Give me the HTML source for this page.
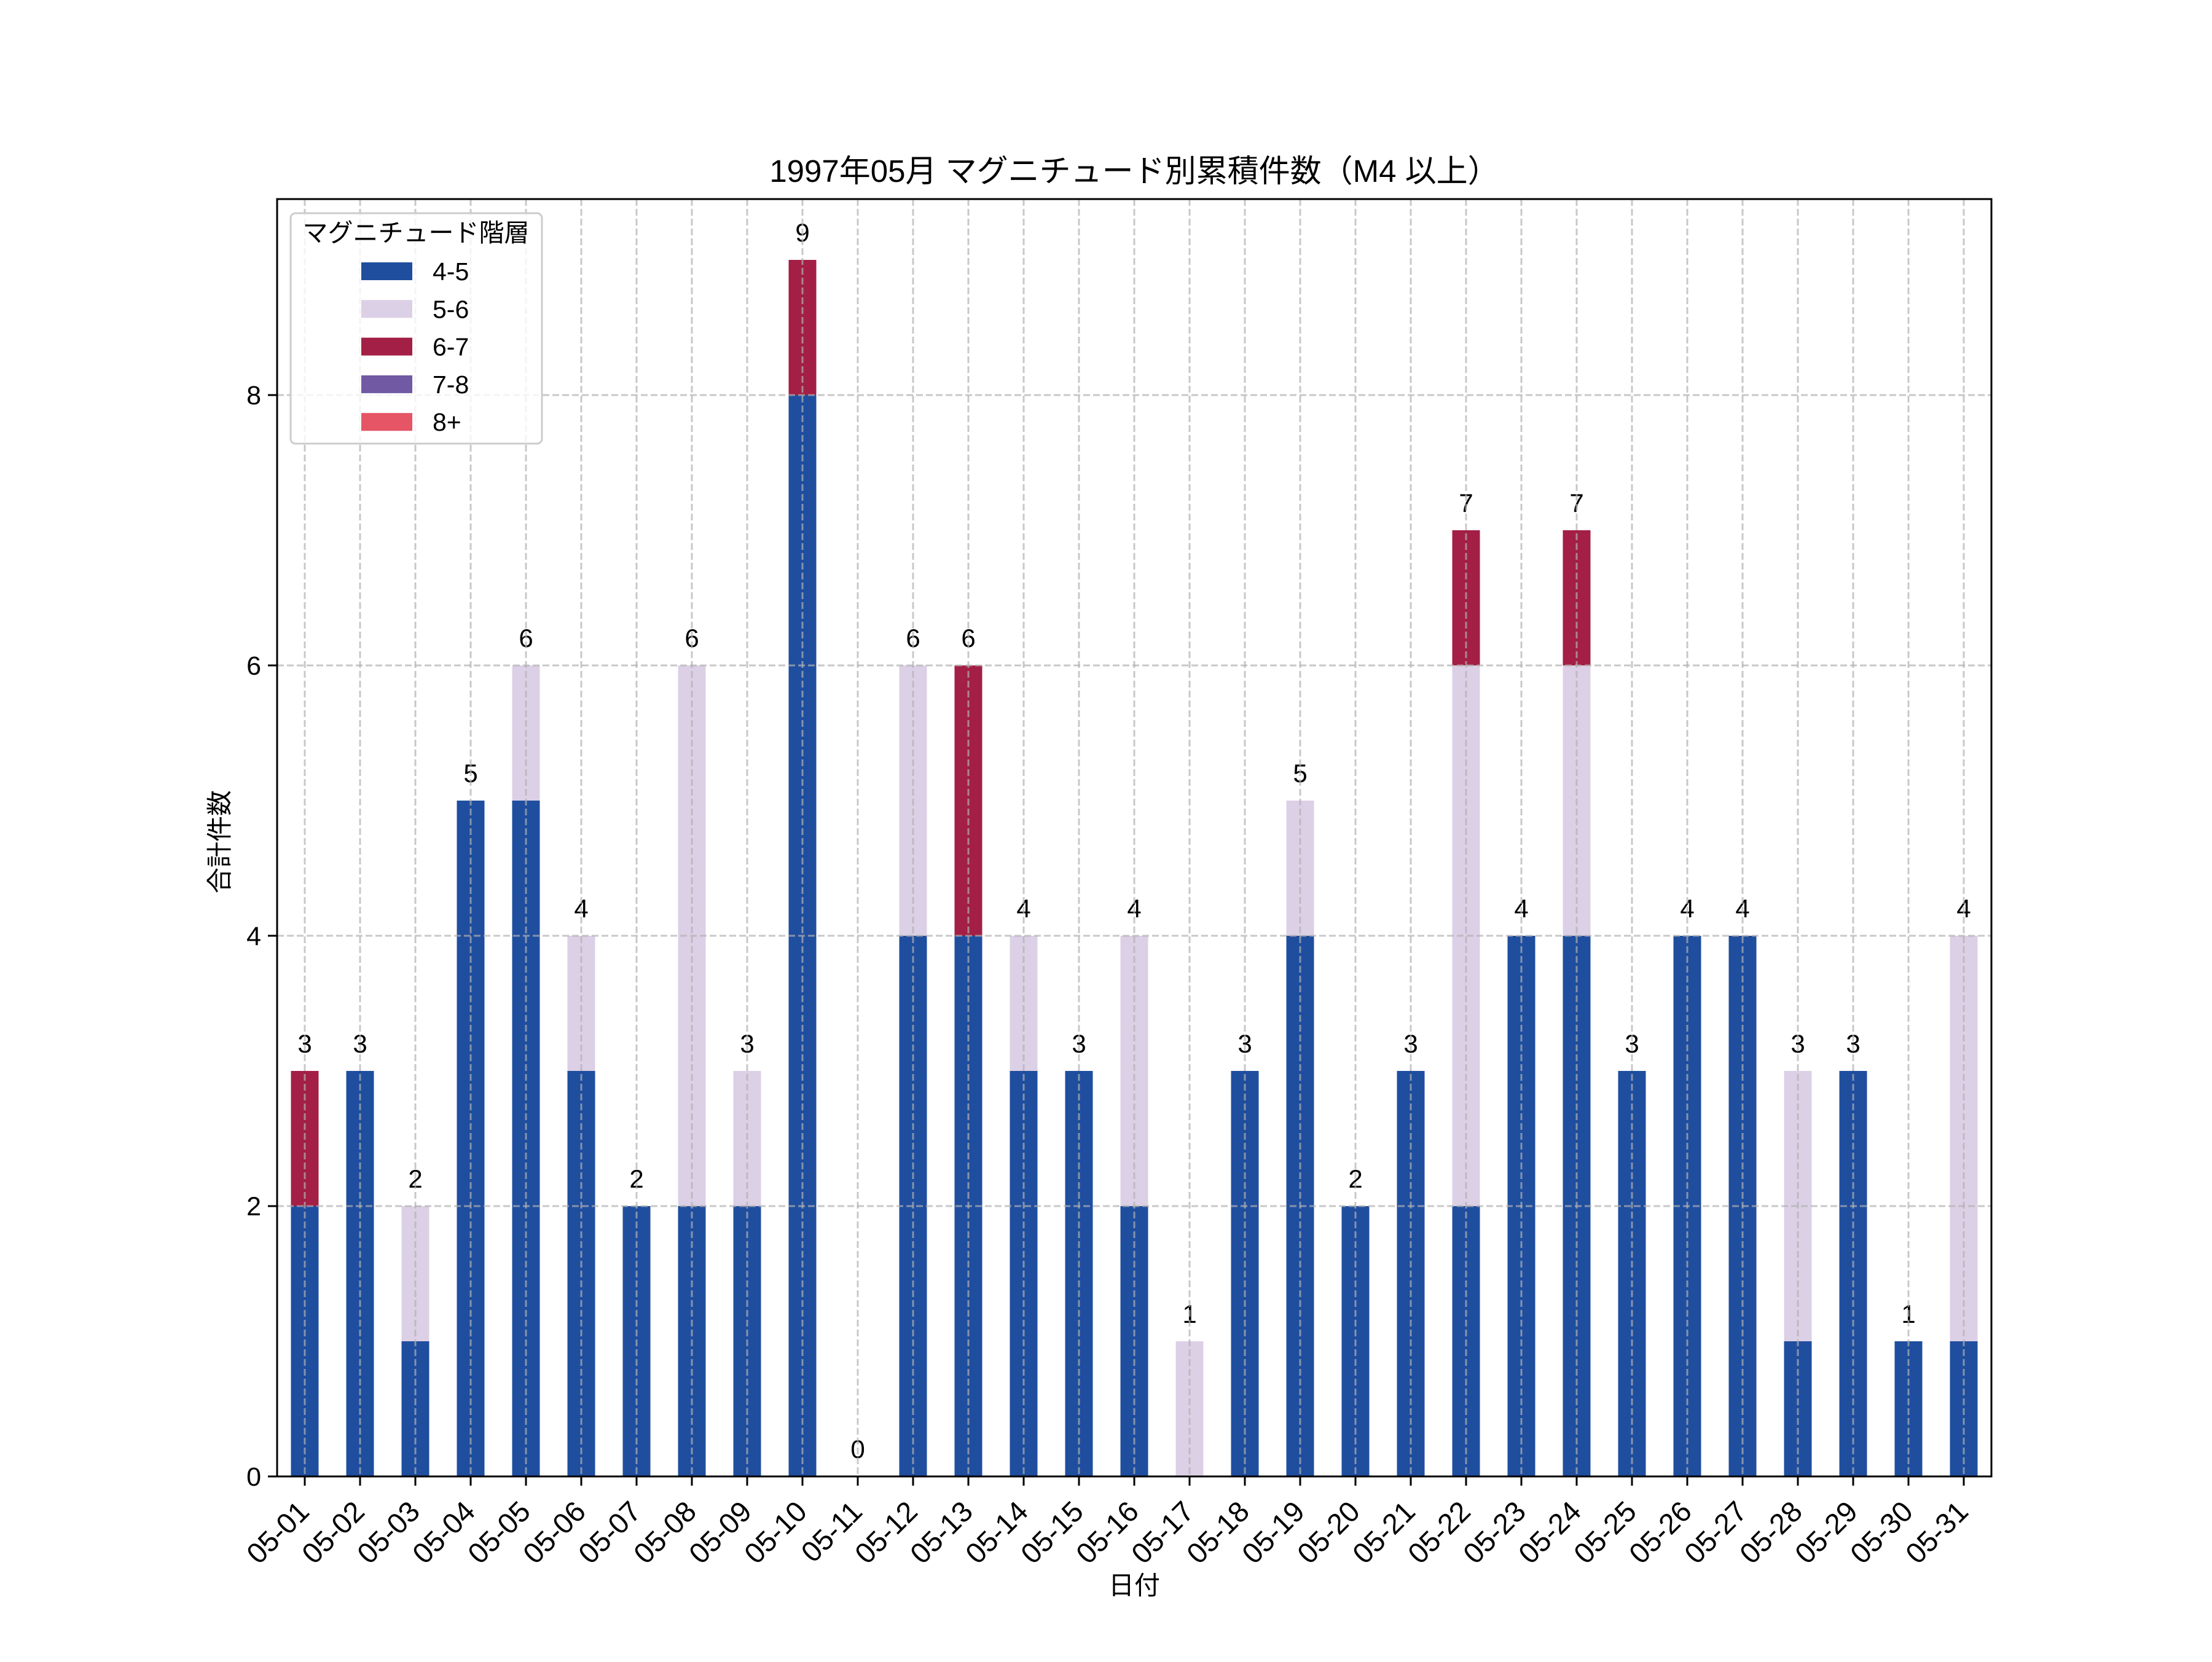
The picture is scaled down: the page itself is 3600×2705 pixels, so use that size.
<!DOCTYPE html>
<html><head><meta charset="utf-8">
<style>
html,body{margin:0;padding:0;background:#fff;}
svg text{font-family:"Liberation Sans","Noto Sans CJK JP",sans-serif;fill:#000;}
</style></head>
<body>
<svg id="chart" width="3600" height="2700" viewBox="0 0 3600 2700" xmlns="http://www.w3.org/2000/svg">
<rect width="3600" height="2700" fill="#fff"/>
<g id="bars"></g>
<g id="grid"></g>
<g id="axes"></g>
<text x="1846" y="296" font-size="51" text-anchor="middle">1997年05月 マグニチュード別累積件数（M4 以上）</text>
<text x="1846" y="2595" font-size="42" text-anchor="middle">日付</text>
<text x="0" y="0" font-size="42" text-anchor="middle" transform="translate(372,1370) rotate(-90)">合計件数</text>
<g id="legend">
<rect x="473" y="347" width="409" height="375" rx="8" fill="#fff" fill-opacity="0.8" stroke="#cccccc" stroke-width="3"/>
<text x="677" y="393" font-size="41" text-anchor="middle">マグニチュード階層</text>
</g>
</svg>
<script>
const categories = ["05-01","05-02","05-03","05-04","05-05","05-06","05-07","05-08","05-09","05-10","05-11","05-12","05-13","05-14","05-15","05-16","05-17","05-18","05-19","05-20","05-21","05-22","05-23","05-24","05-25","05-26","05-27","05-28","05-29","05-30","05-31"];
const m45 = [2,3,1,5,5,3,2,2,2,8,0,4,4,3,3,2,0,3,4,2,3,2,4,4,3,4,4,1,3,1,1];
const m56 = [0,0,1,0,1,1,0,4,1,0,0,2,0,1,0,2,1,0,1,0,0,4,0,2,0,0,0,2,0,0,3];
const m67 = [1,0,0,0,0,0,0,0,0,1,0,0,2,0,0,0,0,0,0,0,0,1,0,1,0,0,0,0,0,0,0];
const m78 = [0,0,0,0,0,0,0,0,0,0,0,0,0,0,0,0,0,0,0,0,0,0,0,0,0,0,0,0,0,0,0];
const m8p = [0,0,0,0,0,0,0,0,0,0,0,0,0,0,0,0,0,0,0,0,0,0,0,0,0,0,0,0,0,0,0];
const seriesNames = ["4-5","5-6","6-7","7-8","8+"];
const yTicks = [0,2,4,6,8];

const NS="http://www.w3.org/2000/svg";
const L=451,R=3241,T=324,B=2403;
const colors=["#1f4e9f","#dcd0e6","#a31f45","#7159a4","#e55565"];
const series=[m45,m56,m67,m78,m8p];
const n=categories.length;
const totals=categories.map((c,i)=>series.reduce((s,a)=>s+a[i],0));
const yMax=Math.max(...totals)*1.05;
const bw=(R-L)/n;
function xs(i){return L+bw*(i+0.5);}
function ys(v){return B-(v/yMax)*(B-T);}
function mk(tag,attrs,parent){const e=document.createElementNS(NS,tag);for(const k in attrs)e.setAttribute(k,attrs[k]);parent.appendChild(e);return e;}
const gb=document.getElementById('bars'),gg=document.getElementById('grid'),ga=document.getElementById('axes'),gl=document.getElementById('legend');
for(let i=0;i<n;i++){
  let base=0;
  for(let s=0;s<series.length;s++){
    const v=series[s][i];
    if(v>0){
      const r=mk('rect',{x:xs(i)-bw*0.25,y:ys(base+v),width:bw*0.5,height:ys(base)-ys(base+v),fill:colors[s]},gb);
      
      
    }
    base+=v;
  }
  const t=mk('text',{x:xs(i),y:ys(totals[i])-30,'font-size':42,'text-anchor':'middle'},gb);
  t.textContent=totals[i];
  
  
}
for(let i=0;i<n;i++){
  const l=mk('line',{x1:xs(i),x2:xs(i),y1:T,y2:B,stroke:'#b0b0b0','stroke-opacity':0.7,'stroke-width':3,'stroke-dasharray':'11,5'},gg);
  
  
  const tk=mk('line',{x1:xs(i),x2:xs(i),y1:B,y2:B+15,stroke:'#000','stroke-width':3},ga);
  
  
  const tl=mk('text',{x:0,y:0,'font-size':47,'text-anchor':'end',transform:`translate(${xs(i)+10},${B+60}) rotate(-45)`},ga);
  tl.textContent=categories[i];
  
  
}
yTicks.forEach(v=>{
  if(v>0){
    const l=mk('line',{x1:L,x2:R,y1:ys(v),y2:ys(v),stroke:'#b0b0b0','stroke-opacity':0.7,'stroke-width':3,'stroke-dasharray':'11,5'},gg);
    
    
  }
  const tk=mk('line',{x1:L-15,x2:L,y1:ys(v),y2:ys(v),stroke:'#000','stroke-width':3},ga);
  
  
  const tl=mk('text',{x:L-26,y:ys(v)+15,'font-size':43,'text-anchor':'end'},ga);
  tl.textContent=v;
  
  
});
const fr=mk('rect',{x:L,y:T,width:R-L,height:B-T,fill:'none',stroke:'#000','stroke-width':3},ga);


seriesNames.forEach((nm,s)=>{
  const y=441+s*61.3;
  const p=mk('rect',{x:588,y:y-14,width:83,height:29,fill:colors[s]},gl);
  
  
  const t=mk('text',{x:704,y:y+15,'font-size':41},gl);
  t.textContent=nm;
  
  
});
</script>
</body></html>
